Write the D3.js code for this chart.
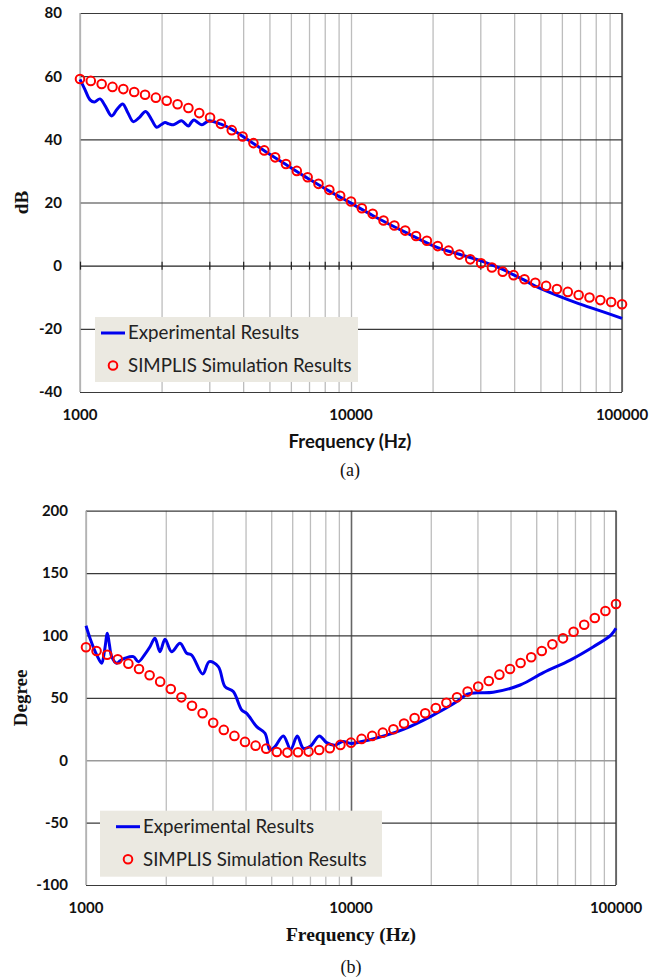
<!DOCTYPE html>
<html>
<head>
<meta charset="utf-8">
<script src="https://cdn.jsdelivr.net/npm/d3@7"></script>
<style>
  html, body { margin: 0; padding: 0; background: #fff; }
  svg { display: block; }
</style>
</head>
<body>
<svg id="chart" width="664" height="979"></svg>
<script>
// Frequency grid of the SIMPLIS simulation (25 points per decade)
const simFreq = [1000, 1096, 1202, 1318, 1445, 1585, 1738, 1905, 2089, 2291,
  2512, 2754, 3020, 3311, 3631, 3981, 4365, 4786, 5248, 5754,
  6310, 6918, 7586, 8318, 9120, 10000, 10965, 12023, 13183, 14454,
  15849, 17378, 19055, 20893, 22909, 25119, 27542, 30200, 33113, 36308,
  39811, 43652, 47863, 52481, 57544, 63096, 69183, 75858, 83176, 91201, 100000];

// (a) loop gain magnitude, dB
const simGain = [59.1, 58.5, 57.5, 56.6, 55.9, 55.0, 54.1, 53.2, 52.2, 51.1,
  49.9, 48.3, 46.9, 44.9, 42.9, 40.9, 38.8, 36.5, 34.3, 32.2,
  30.0, 28.0, 25.9, 24.0, 22.1, 20.3, 18.2, 16.4, 14.3, 12.7,
  11.1, 9.4, 7.9, 6.2, 4.75, 3.5, 2.0, 0.75, -0.6, -1.9,
  -3.0, -4.3, -5.4, -6.4, -7.4, -8.3, -9.3, -10.1, -10.9, -11.5, -12.2];

const expGainFreq = [1000, 1040, 1089, 1130, 1185, 1240, 1309, 1370, 1437, 1500,
  1573, 1650, 1747, 1830, 1919, 1990, 2059, 2130, 2210, 2290,
  2372, 2440, 2511, 2570, 2634, 2720, 2812, 2900, 3000, 3311,
  3631, 3981, 4365, 4786, 5248, 5754, 6310, 6918, 7586, 8318,
  9120, 10000, 12023, 15849, 20893, 25119, 30200, 36308, 39811, 43652,
  47863, 57544, 69183, 83176, 100000];
const expGain = [59.0, 56.0, 52.5, 51.8, 52.8, 50.5, 47.4, 49.5, 51.2, 48.5,
  45.6, 46.8, 48.8, 46.5, 43.8, 44.6, 45.3, 44.9, 44.6, 45.3,
  45.9, 45.0, 44.2, 45.3, 46.1, 45.3, 44.6, 45.2, 45.9, 44.8,
  43.2, 41.0, 38.7, 36.4, 34.2, 32.0, 29.8, 27.7, 25.6, 23.6,
  21.7, 19.8, 15.9, 10.6, 5.7, 3.6, 1.5, -1.2, -2.9, -4.6,
  -6.5, -9.4, -12.0, -14.3, -16.7];

// (b) loop gain phase, degrees
const simPhase = [90.5, 87.5, 84.6, 80.9, 77.4, 73.1, 68.1, 63.0, 57.1, 50.4,
  43.7, 37.6, 30.1, 24.3, 19.5, 14.7, 11.7, 9.3, 6.6, 6.1,
  6.4, 6.9, 8.2, 9.6, 12.3, 14.1, 17.1, 19.5, 22.1, 24.8,
  29.5, 33.8, 37.6, 41.9, 46.1, 50.4, 55.0, 59.0, 63.5, 68.6,
  73.1, 77.9, 82.5, 87.5, 92.9, 97.7, 103.0, 108.6, 114.0, 119.6, 125.2];

const expPhaseFreq = [1000, 1041, 1100, 1146, 1175, 1204, 1225, 1250, 1305, 1350,
  1403, 1509, 1576, 1670, 1744, 1820, 1901, 1987, 2104, 2263,
  2399, 2505, 2757, 2919, 3156, 3346, 3595, 3868, 4039, 4406,
  4737, 4944, 5165, 5553, 5923, 6268, 6607, 7047, 7590, 8091,
  8700, 9300, 10000, 11000, 12590, 15849, 19953, 25119, 27500, 30000,
  34400, 43500, 53200, 67200, 82200, 95700, 100000];
const expPhase = [107.8, 96.4, 84.0, 77.7, 88.0, 101.7, 93.0, 83.0, 77.7, 80.0,
  81.7, 83.0, 79.0, 85.1, 91.0, 97.7, 87.0, 96.9, 87.0, 93.7,
  85.7, 84.3, 69.1, 79.0, 75.0, 59.0, 55.0, 40.3, 37.6, 26.9,
  21.6, 8.2, 10.9, 19.5, 8.8, 19.5, 9.6, 11.5, 19.5, 14.1,
  12.0, 15.0, 13.5, 15.0, 18.0, 25.0, 35.0, 47.0, 53.0, 54.0,
  54.5, 60.3, 70.2, 80.3, 91.0, 100.3, 105.7];

// Axis ticks
const freqGridTicks = [1000, 2000, 3000, 4000, 5000, 6000, 7000, 8000, 9000,
  10000, 20000, 30000, 40000, 50000, 60000, 70000, 80000, 90000, 100000];
const freqLabelTicks = [1000, 10000, 100000];
const gainTicks = [-40, -20, 0, 20, 40, 60, 80];
const phaseTicks = [-100, -50, 0, 50, 100, 150, 200];

const seriesNames = ["Experimental Results", "SIMPLIS Simulation Results"];

const svg = d3.select("#chart");
const tickFont = "Lato, 'Open Sans', sans-serif";
const serif = "'Liberation Serif', 'DejaVu Serif', serif";

function drawPanel(o) {
  const g = svg.append("g");
  const x = d3.scaleLog().domain([1000, 100000]).range([o.left, o.right]);
  const y = d3.scaleLinear().domain(o.yDomain).range([o.bottom, o.top]);
  const h = o.bottom - o.top;

  // vertical grid
  g.append("g")
    .attr("transform", `translate(0,${o.bottom})`)
    .call(d3.axisBottom(x).tickValues(freqGridTicks).tickSize(-h).tickFormat(""))
    .call(s => s.select(".domain").remove())
    .call(s => s.selectAll(".tick line")
      .attr("stroke", d => (o.darkDecade && d === 10000) ? "#666" : "#bdbdbd")
      .attr("stroke-width", d => (o.darkDecade && d === 10000) ? 1.6 : 1.3));

  // horizontal grid
  g.append("g")
    .attr("transform", `translate(${o.left},0)`)
    .call(d3.axisLeft(y).tickValues(o.yTicks).tickSize(-(o.right - o.left)).tickFormat(""))
    .call(s => s.select(".domain").remove())
    .call(s => s.selectAll(".tick line")
      .attr("stroke", d => d === 0 ? o.zeroColor : "#3a3a3a")
      .attr("stroke-width", d => d === 0 ? o.zeroWidth : 1.2));

  // left axis (light) and right border (dark)
  g.append("line").attr("x1", o.left).attr("x2", o.left).attr("y1", o.top).attr("y2", o.bottom)
    .attr("stroke", "#b0b0b0").attr("stroke-width", 1.5);
  g.append("line").attr("x1", o.right).attr("x2", o.right).attr("y1", o.top).attr("y2", o.bottom)
    .attr("stroke", "#333").attr("stroke-width", 1.3);

  // tick marks along the 0 line
  if (o.zeroTicks) {
    g.append("g")
      .attr("transform", `translate(0,${y(0)})`)
      .call(d3.axisBottom(x).tickValues(freqGridTicks).tickSize(0).tickFormat(""))
      .call(s => s.select(".domain").remove())
      .call(s => s.selectAll(".tick line").attr("y1", -4).attr("y2", 4)
        .attr("stroke", "#222").attr("stroke-width", 1.2));
  }

  // y tick labels
  g.append("g")
    .selectAll("text").data(o.yTicks).join("text")
    .attr("x", o.left - 18).attr("y", d => y(d)).attr("dy", "0.36em")
    .attr("text-anchor", "end")
    .attr("font-family", tickFont).attr("font-weight", "bold").attr("font-size", 15)
    .attr("fill", "#111").text(d => d);

  // x tick labels
  g.append("g")
    .selectAll("text").data(freqLabelTicks).join("text")
    .attr("x", d => x(d)).attr("y", o.bottom + 28)
    .attr("text-anchor", "middle")
    .attr("font-family", tickFont).attr("font-weight", "bold").attr("font-size", 15)
    .attr("fill", "#111").text(d => d);

  // axis titles
  g.append("text")
    .attr("x", o.xTitleX).attr("y", o.bottom + 56)
    .attr("text-anchor", "middle")
    .attr("font-family", o.xTitleFont).attr("font-weight", "bold").attr("font-size", o.xTitleSize)
    .attr("fill", "#111").text("Frequency (Hz)");
  g.append("text")
    .attr("transform", `translate(${o.yTitleX},${(o.top + o.bottom) / 2}) rotate(-90)`)
    .attr("text-anchor", "middle")
    .attr("font-family", serif).attr("font-weight", "bold").attr("font-size", 19)
    .attr("fill", "#111").text(o.yTitle);

  // caption
  g.append("text")
    .attr("x", o.xTitleX).attr("y", o.captionY)
    .attr("text-anchor", "middle")
    .attr("font-family", serif).attr("font-size", 18)
    .attr("fill", "#111").text(o.caption);

  // legend
  const lg = g.append("g");
  lg.append("rect")
    .attr("x", o.legend.x).attr("y", o.legend.y)
    .attr("width", o.legend.w).attr("height", o.legend.h)
    .attr("fill", "#ebe9e1");

  // experimental curve
  const line = d3.line()
    .x(d => x(d[0])).y(d => y(d[1]))
    .curve(d3.curveCatmullRom.alpha(0.5));
  g.append("path")
    .datum(o.expFreq.map((f, i) => [f, o.expVals[i]]))
    .attr("d", line)
    .attr("fill", "none").attr("stroke", "#0000ee")
    .attr("stroke-width", 3).attr("stroke-linejoin", "round");

  // simulation markers
  g.append("g").selectAll("circle")
    .data(simFreq.map((f, i) => [f, o.simVals[i]]))
    .join("circle")
    .attr("cx", d => x(d[0])).attr("cy", d => y(d[1])).attr("r", 4.3)
    .attr("fill", "none").attr("stroke", "#ff0000").attr("stroke-width", 2);

  // legend entries
  const lx = o.legend.x, ly = o.legend.y;
  lg.append("line")
    .attr("x1", lx + o.legend.symX - 12).attr("x2", lx + o.legend.symX + 12)
    .attr("y1", ly + 16).attr("y2", ly + 16)
    .attr("stroke", "#0000ee").attr("stroke-width", 3);
  lg.append("circle")
    .attr("cx", lx + o.legend.symX).attr("cy", ly + 48.5).attr("r", 4.3)
    .attr("fill", "none").attr("stroke", "#ff0000").attr("stroke-width", 2);
  lg.selectAll("text").data(seriesNames).join("text")
    .attr("x", lx + o.legend.textX).attr("y", (d, i) => ly + 22 + i * 33)
    .attr("font-family", tickFont).attr("font-size", 18.7)
    .attr("fill", "#222").text(d => d);
}

drawPanel({
  left: 80, right: 622, top: 13, bottom: 392,
  yDomain: [-40, 80], yTicks: gainTicks,
  zeroColor: "#222", zeroWidth: 1.2, zeroTicks: true, darkDecade: false,
  simVals: simGain, expFreq: expGainFreq, expVals: expGain,
  yTitle: "dB", yTitleX: 28, xTitleX: 350,
  xTitleFont: tickFont, xTitleSize: 18.5,
  caption: "(a)", captionY: 476,
  legend: { x: 95, y: 317, w: 263, h: 65, symX: 18, textX: 33 }
});

drawPanel({
  left: 86, right: 616, top: 510.7, bottom: 885,
  yDomain: [-100, 200], yTicks: phaseTicks,
  zeroColor: "#9a9a9a", zeroWidth: 1.3, zeroTicks: false, darkDecade: true,
  simVals: simPhase, expFreq: expPhaseFreq, expVals: expPhase,
  yTitle: "Degree", yTitleX: 27, xTitleX: 351,
  xTitleFont: serif, xTitleSize: 19.5,
  caption: "(b)", captionY: 973,
  legend: { x: 100, y: 810.7, w: 282, h: 66, symX: 28, textX: 43 }
});
</script>
</body>
</html>
